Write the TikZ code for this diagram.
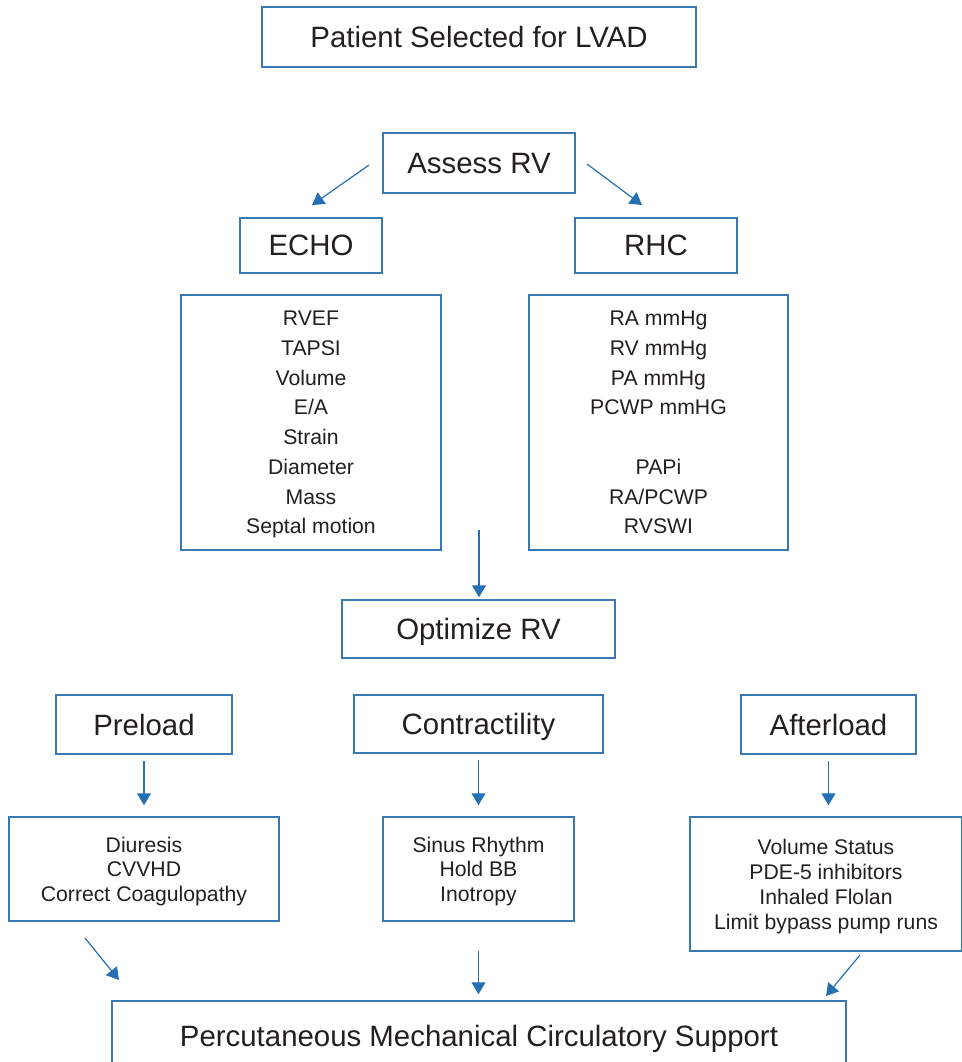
\documentclass[tikz,border=0pt]{standalone}
\usepackage{fontspec}
\setmainfont{Liberation Sans}
\usetikzlibrary{positioning}
\usetikzlibrary{arrows.meta}
\definecolor{boxblue}{RGB}{58,121,179}
\definecolor{arrowblue}{RGB}{36,112,180}
\definecolor{inkgray}{RGB}{35,31,32}
\tikzset{
        boxnode/.style={align=center, inner sep=0pt, text depth=0pt, rectangle, draw=boxblue, line width=0.75pt, text=inkgray},
        % Heading boxes
        node_head/.style={boxnode, font=\fontsize{14.7}{17}\selectfont},
        % Boxes with lists
        node_list/.style={boxnode, font=\fontsize{10.6}{14.85}\selectfont},
        % Smaller lists below
        node_sublist/.style={boxnode, font=\fontsize{10.6}{12.3}\selectfont},
        % Arrows
        flow/.style={-{Triangle[length=6pt,width=7pt]}, draw=arrowblue, line width=0.6pt}
}
\begin{document}
\begin{tikzpicture}[x=0.5pt, y=-0.5pt]
            \useasboundingbox (0,0) rectangle (962,1062);
            % top part
            \node[node_head, minimum width=217pt, minimum height=30pt] (patient) at (479,37) {Patient Selected for LVAD};
            \node[node_head, minimum width=96pt, minimum height=30pt] (assess) at (479,163) {Assess RV};
            \node[node_head, minimum width=71pt, minimum height=27.5pt] (echo) at (311,245.5) {ECHO};
            \node[node_head, minimum width=81pt, minimum height=27.5pt] (rhc) at (656,245.5) {RHC};
            \node[node_list, minimum width=130pt, minimum height=127.5pt] (echolist) at (311,422.5)
                {RVEF\\TAPSI\\Volume\\E/A\\Strain\\Diameter\\Mass\\Septal motion};
            \node[node_list, minimum width=129.5pt, minimum height=127.5pt] (rhclist) at (658.5,422.5)
                {RA mmHg\\RV mmHg\\PA mmHg\\PCWP mmHG\\[14.85pt]PAPi\\RA/PCWP\\RVSWI};
            % optimize part
            \node[node_head, minimum width=136.5pt, minimum height=29pt] (optimize) at (478.5,629) {Optimize RV};
            \node[node_head, minimum width=88pt, minimum height=29.5pt] (preload) at (144,724.5) {Preload};
            \node[node_head, minimum width=124.5pt, minimum height=29pt] (contract) at (478.5,724) {Contractility};
            \node[node_head, minimum width=87.5pt, minimum height=29.5pt] (afterload) at (828.5,724.5) {Afterload};
            \node[node_sublist, minimum width=135pt, minimum height=52pt] (preloadlist) at (144,869)
                {Diuresis\\CVVHD\\Correct Coagulopathy};
            \node[node_sublist, minimum width=95.5pt, minimum height=52pt] (contractlist) at (478.5,869)
                {Sinus Rhythm\\Hold BB\\Inotropy};
            \node[node_sublist, font=\fontsize{10.6}{12.5}\selectfont, minimum width=136pt, minimum height=67pt] (afterloadlist) at (826,884)
                {Volume Status\\PDE-5 inhibitors\\Inhaled Flolan\\Limit bypass pump runs};
            \node[node_head, minimum width=367pt, minimum height=35pt] (pmcs) at (479,1036) {Percutaneous Mechanical Circulatory Support};
            % free arrow ends
            \coordinate (assessL) at (369,165);
            \coordinate (echoT) at (312,205);
            \coordinate (assessR) at (587,164);
            \coordinate (rhcT) at (642,205);
            \coordinate (listsB) at (479,530);
            \coordinate (preloadB) at (85,938);
            \coordinate (pmcsL) at (119,980);
            \coordinate (afterloadB) at (860,955);
            \coordinate (pmcsR) at (826,996);
            % arrows
            \draw[flow] (assessL) -- (echoT);
            \draw[flow] (assessR) -- (rhcT);
            \draw[flow, shorten >=1pt] (listsB) -- (listsB |- optimize.north);
            \draw[flow, shorten <=3pt, shorten >=5.5pt] (preload.south) -- (preloadlist.north);
            \draw[flow, shorten <=3pt, shorten >=5.5pt] (contract.south) -- (contractlist.north);
            \draw[flow, shorten <=3pt, shorten >=5.5pt] (afterload.south) -- (afterload.south |- afterloadlist.north);
            \draw[flow] (preloadB) -- (pmcsL);
            \draw[flow, shorten <=14.5pt, shorten >=3pt] (contractlist.south) -- (contractlist.south |- pmcs.north);
            \draw[flow] (afterloadB) -- (pmcsR);
\end{tikzpicture}
\end{document}
